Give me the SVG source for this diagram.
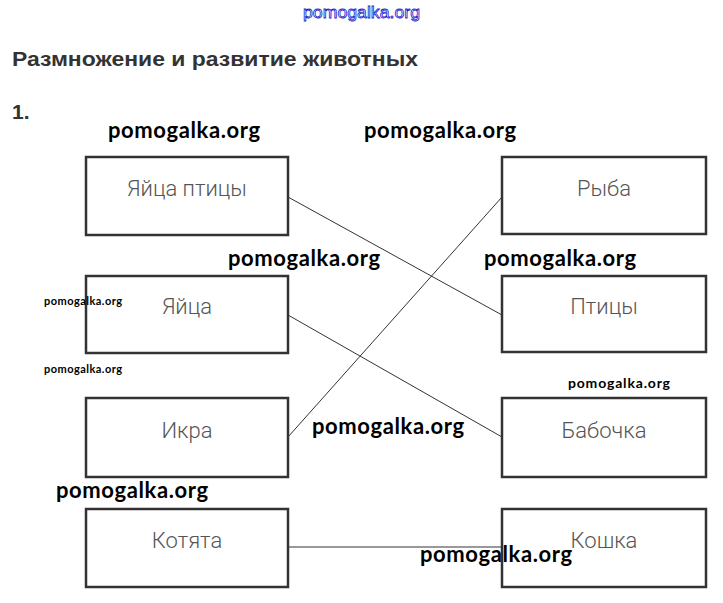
<svg xmlns="http://www.w3.org/2000/svg" width="723" height="603" viewBox="0 0 723 603">
<style>
.box{fill:#fff;stroke:#333;stroke-width:2.5}
.lbl{font-family:Roboto,"Liberation Sans",sans-serif;font-weight:300;font-size:22px;fill:#555;text-anchor:middle}
.wm{font-family:Lato,"Liberation Sans",sans-serif;font-weight:700;font-size:22px;fill:#000}
.wms{font-family:Lato,"Liberation Sans",sans-serif;font-weight:700;font-size:11px;fill:#000}
.ln{stroke:#333;stroke-width:1;fill:none}
</style>
<rect width="723" height="603" fill="#fff"/>
<text x="303" y="18" textLength="117" lengthAdjust="spacingAndGlyphs" font-family="'Liberation Sans',sans-serif" font-size="17" fill="#fff" stroke="#2222cc" stroke-width="0.8">pomogalka.org</text>
<text x="12" y="66" textLength="406" lengthAdjust="spacingAndGlyphs" font-family="'Liberation Sans',sans-serif" font-weight="700" font-size="21" fill="#333">Размножение и развитие животных</text>
<text x="12" y="119" font-family="'Liberation Sans',sans-serif" font-weight="700" font-size="21" fill="#333">1.</text>
<g id="connectors">
<line class="ln" x1="288" y1="197" x2="502" y2="315"/>
<line class="ln" x1="288" y1="315" x2="502" y2="437"/>
<line class="ln" x1="288" y1="437" x2="502" y2="197"/>
<line x1="288" y1="547" x2="502" y2="547" stroke="#999" stroke-width="2"/>
</g>
<g id="n1"><rect class="box" x="86" y="157" width="202" height="78"/><text class="lbl" x="187" y="196">Яйца птицы</text></g>
<g id="n2"><rect class="box" x="86" y="276" width="202" height="77"/><text class="lbl" x="187" y="314">Яйца</text></g>
<g id="n3"><rect class="box" x="86" y="398" width="202" height="79"/><text class="lbl" x="187" y="438">Икра</text></g>
<g id="n4"><rect class="box" x="86" y="509" width="202" height="78"/><text class="lbl" x="187" y="548">Котята</text></g>
<g id="n5"><rect class="box" x="502" y="157" width="204" height="77"/><text class="lbl" x="604" y="196">Рыба</text></g>
<g id="n6"><rect class="box" x="502" y="276" width="204" height="76"/><text class="lbl" x="604" y="314">Птицы</text></g>
<g id="n7"><rect class="box" x="502" y="398" width="204" height="79"/><text class="lbl" x="604" y="438">Бабочка</text></g>
<g id="n8"><rect class="box" x="502" y="509" width="204" height="78"/><text class="lbl" x="604" y="548">Кошка</text></g>
<g id="watermarks">
<text class="wm" x="108" y="138" textLength="152">pomogalka.org</text>
<text class="wm" x="364" y="138" textLength="152">pomogalka.org</text>
<text class="wm" x="228" y="266" textLength="152">pomogalka.org</text>
<text class="wm" x="484" y="266" textLength="152">pomogalka.org</text>
<text class="wm" x="312" y="434" textLength="152">pomogalka.org</text>
<text class="wm" x="56" y="498" textLength="152">pomogalka.org</text>
<text class="wm" x="420" y="562" textLength="152">pomogalka.org</text>
<text class="wms" x="44" y="305" textLength="78">pomogalka.org</text>
<text class="wms" x="44" y="373" textLength="78">pomogalka.org</text>
<text class="wms" x="568" y="388" style="font-size:14px" textLength="102">pomogalka.org</text>
</g>
</svg>
